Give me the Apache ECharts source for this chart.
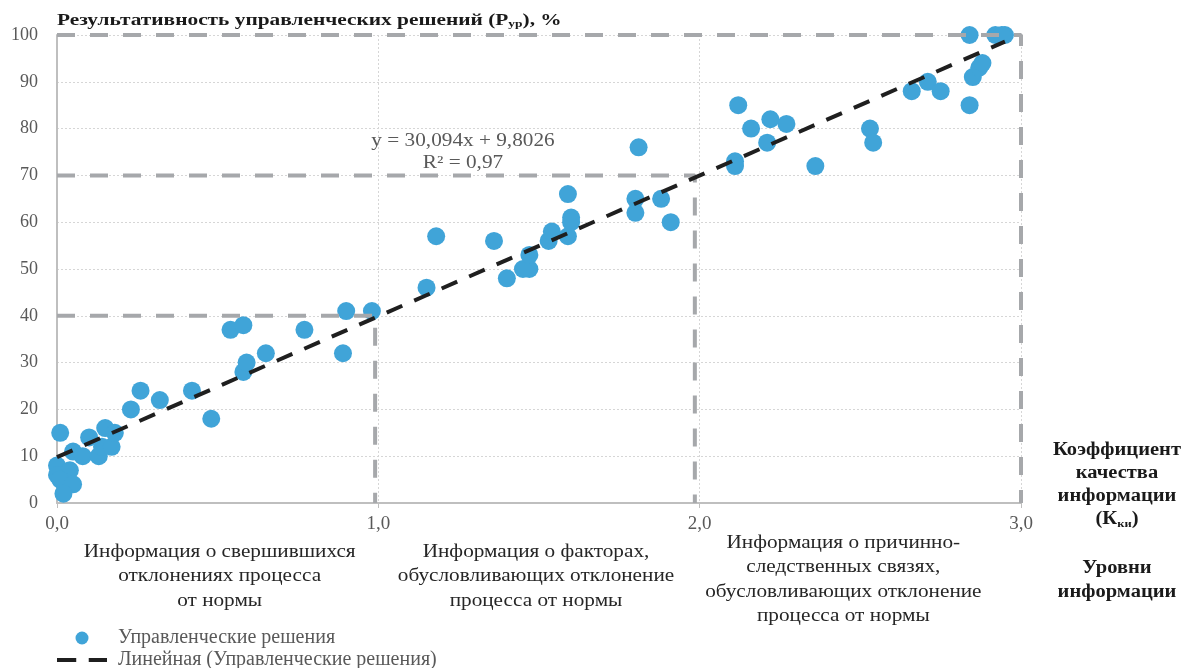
<!DOCTYPE html>
<html>
<head>
<meta charset="utf-8">
<script src="https://cdn.jsdelivr.net/npm/echarts@6/dist/echarts.min.js"></script>
<style>
  html, body { margin: 0; padding: 0; background: #ffffff; }
  #chart { width: 1187px; height: 668px; }
</style>
</head>
<body>
<div id="chart"></div>
<script>
// Коэффициент качества информации (Кки) for each managerial decision
const kqi = [
  0.01, 0.00, 0.00, 0.04, 0.01, 0.05, 0.02, 0.05, 0.08, 0.10, 0.13, 0.14, 0.15, 0.17, 0.18,
  0.23, 0.26, 0.32, 0.42, 0.48, 0.54, 0.58, 0.58, 0.59, 0.65, 0.77, 0.89, 0.90, 0.98,
  1.15, 1.18, 1.36, 1.40, 1.47, 1.45, 1.47, 1.53, 1.54, 1.59, 1.60, 1.60, 1.59,
  1.81, 1.80, 1.80, 1.88, 1.91,
  2.11, 2.11, 2.12, 2.16, 2.22, 2.27, 2.21, 2.36, 2.53, 2.54,
  2.66, 2.71, 2.75, 2.84, 2.84, 2.85, 2.87, 2.88, 2.92, 2.95, 2.94
];
// Результативность управленческих решений (Рур), %
const ryp = [
  15, 8, 6, 7, 5, 4, 2, 11, 10, 14, 10, 12, 16, 12, 15,
  20, 24, 22, 24, 18, 37, 38, 28, 30, 32, 37, 32, 41, 41,
  46, 57, 56, 48, 50, 50, 53, 56, 58, 66, 61, 60, 57,
  76, 65, 62, 65, 60,
  73, 72, 85, 80, 82, 81, 77, 72, 80, 77,
  88, 90, 88, 100, 85, 91, 93, 94, 100, 100, 100
];

// Linear trend as stated on the chart: y = 30,094x + 9,8026
const trendSlope = 30.094;
const trendIntercept = 9.8026;
const trendR2 = '0,97';

// Boundaries of the information levels and the matching results
const levelX = [0.99, 1.985, 3.0];
const levelY = [40, 70, 100];

const xTicks = ['0,0', '1,0', '2,0', '3,0'];
const levelNames = [
  'Информация о свершившихся\nотклонениях процесса\nот нормы',
  'Информация о факторах,\nобусловливающих отклонение\nпроцесса от нормы',
  'Информация о причинно-\nследственных связях,\nобусловливающих отклонение\nпроцесса от нормы'
];

const SERIF = '"Liberation Serif", "DejaVu Serif", serif';
const POINT_NAME = 'Управленческие решения';
const TREND_NAME = 'Линейная (Управленческие решения)';
// the captions are set in a slightly widened serif
const WIDE = 1.18;

const points = kqi.map((x, i) => [x, ryp[i]]);
const xMin = Math.min(...kqi), xMax = Math.max(...kqi);
const trend = [xMin, xMax].map(x => [x, trendSlope * x + trendIntercept]);
const comma = v => String(v).replace('.', ',');

// each level boundary: horizontal from the y axis, then down to the x axis
const levelSeries = levelX.map((lx, i) => ({
  type: 'line',
  silent: true,
  z: 3,
  showSymbol: false,
  symbol: 'none',
  data: [[0, levelY[i]], [lx, levelY[i]], [lx, 0]],
  lineStyle: { color: '#a6a8ab', width: 4, type: [18, 15] },
  tooltip: { show: false }
}));

const chart = echarts.init(document.getElementById('chart'), null, { renderer: 'canvas' });

chart.setOption({
  animation: false,
  backgroundColor: '#ffffff',
  textStyle: { fontFamily: SERIF },
  legend: {
    orient: 'vertical',
    left: 57,
    top: 628,
    height: 42,
    padding: 0,
    itemWidth: 50,
    itemHeight: 13,
    itemGap: 2,
    data: [
      { name: POINT_NAME, icon: 'circle' },
      { name: TREND_NAME, icon: 'path://M0,0h20v4h-20z M33,0h19v4h-19z' }
    ],
    textStyle: { fontFamily: SERIF, fontSize: 20, color: '#595959', padding: [0, 0, 0, 6] }
  },
  grid: { left: 57, right: 166, top: 35, bottom: 165, containLabel: false },
  xAxis: {
    type: 'value',
    min: 0,
    max: 3,
    interval: 1,
    axisLine: { show: true, lineStyle: { color: '#bfbfbf', width: 2 } },
    axisTick: { show: true, length: 5, lineStyle: { color: '#bfbfbf', width: 1 } },
    axisLabel: {
      margin: 12,
      fontFamily: SERIF, fontSize: 19, color: '#595959',
      formatter: v => xTicks[Math.round(v)] || comma(v)
    },
    splitLine: { show: true, lineStyle: { color: '#d6d6d6', width: 1, type: [2, 2] } }
  },
  yAxis: {
    type: 'value',
    min: 0,
    max: 100,
    interval: 10,
    axisLine: { show: true, lineStyle: { color: '#bfbfbf', width: 2 } },
    axisTick: { show: false },
    axisLabel: { margin: 19, fontFamily: SERIF, fontSize: 18, color: '#595959' },
    splitLine: { show: true, lineStyle: { color: '#d6d6d6', width: 1, type: [2, 2] } }
  },
  series: [
    {
      name: POINT_NAME,
      type: 'scatter',
      z: 2,
      symbol: 'circle',
      symbolSize: 18,
      data: points,
      itemStyle: { color: '#40a4d8', opacity: 1 }
    },
    ...levelSeries,
    {
      name: TREND_NAME,
      type: 'line',
      z: 4,
      showSymbol: false,
      symbol: 'none',
      data: trend,
      lineStyle: { color: '#1f1f1f', width: 4, type: [17, 13] },
      itemStyle: { color: '#1f1f1f' }
    }
  ]
});

// Title, equation, level captions under the x axis and the axis titles on the right
const toPx = v => chart.convertToPixel({ gridIndex: 0 }, [v, 0])[0];
const captionCenters = [0.5, 1.5, 2.5].map(toPx);
const captionShift = [2, -3, -17];
const captionTops = [540, 540, 531];

const bold = { fontFamily: SERIF, fontWeight: 'bold', fontSize: 18, fill: '#1a1a1a', lineHeight: 23, align: 'center' };
const boldSub = { fontFamily: SERIF, fontWeight: 'bold', fontSize: 11, fill: '#1a1a1a', lineHeight: 23, padding: [9, 0, 0, 0], align: 'center' };

const graphics = [
  {
    type: 'text',
    x: 57, y: 9,
    scaleX: 1.22,
    z: 10,
    style: {
      text: '{b|Результативность управленческих решений (Р}{s|ур}{b|), %}',
      align: 'left', verticalAlign: 'top',
      rich: {
        b: { fontFamily: SERIF, fontWeight: 'bold', fontSize: 17.5, fill: '#1a1a1a', lineHeight: 22 },
        s: { fontFamily: SERIF, fontWeight: 'bold', fontSize: 11, fill: '#1a1a1a', lineHeight: 22, padding: [9, 0, 0, 0] }
      }
    }
  },
  {
    type: 'text',
    x: 463, y: 130,
    scaleX: WIDE,
    z: 10,
    style: {
      text: 'y = ' + comma(trendSlope) + 'x + ' + comma(trendIntercept) + '\nR² = ' + trendR2,
      fontFamily: SERIF, fontSize: 18, fill: '#595959',
      align: 'center', verticalAlign: 'top', lineHeight: 22
    }
  },
  ...levelNames.map((t, i) => ({
    type: 'text',
    x: captionCenters[i] + captionShift[i],
    y: captionTops[i],
    scaleX: WIDE,
    z: 10,
    style: {
      text: t,
      fontFamily: SERIF, fontSize: 18, fill: '#262626',
      align: 'center', verticalAlign: 'top', lineHeight: 24.5
    }
  })),
  {
    type: 'text',
    x: 1117, y: 439,
    scaleX: 1.14,
    z: 10,
    style: {
      text: '{b|Коэффициент}\n{b|качества}\n{b|информации}\n{b|(К}{s|ки}{b|)}',
      align: 'center', verticalAlign: 'top',
      rich: { b: bold, s: boldSub }
    }
  },
  {
    type: 'text',
    x: 1117, y: 556,
    scaleX: 1.14,
    z: 10,
    style: {
      text: 'Уровни\nинформации',
      fontFamily: SERIF, fontWeight: 'bold', fontSize: 18, fill: '#1a1a1a',
      align: 'center', verticalAlign: 'top', lineHeight: 24.5
    }
  }
];
chart.setOption({ graphic: graphics });
</script>
</body>
</html>
